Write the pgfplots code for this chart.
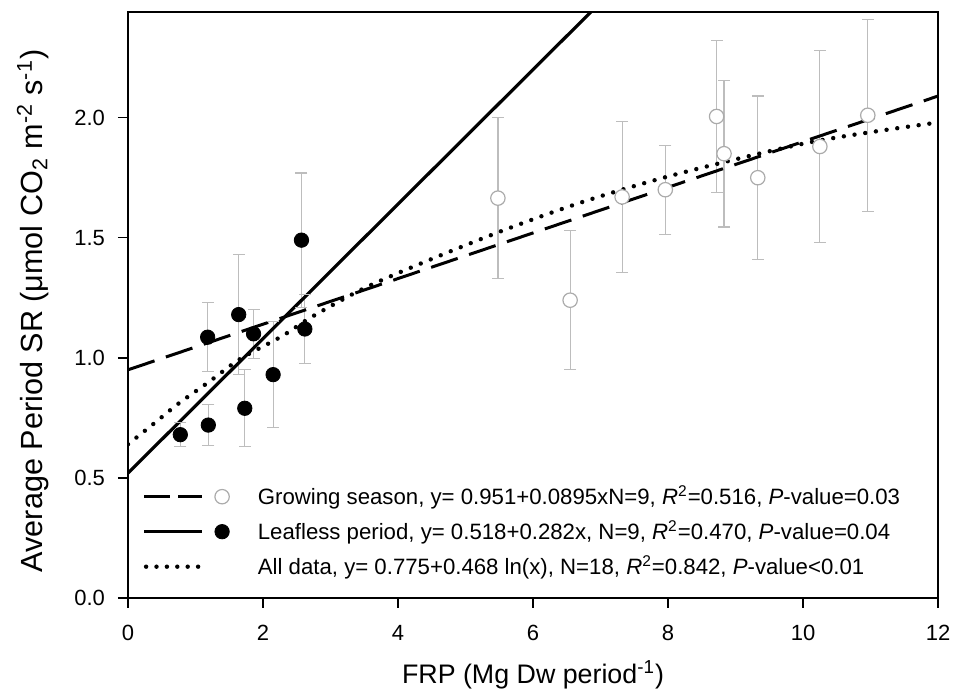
\documentclass[border=0pt]{standalone}
\usepackage{pgfplots}
\usepackage{pgfplotstable}
\pgfplotsset{compat=1.18}
\usepackage{fontspec}
\setmainfont{Liberation Sans}
\definecolor{barra}{HTML}{BDBDBD}
\definecolor{obert}{HTML}{ABABAB}

\pgfplotstableread{
x     y      e
0.775 0.680  0.050
1.190 0.720  0.085
1.180 1.086  0.143
1.640 1.180  0.250
1.860 1.100  0.102
1.730 0.790  0.160
2.150 0.930  0.220
2.570 1.490  0.280
2.620 1.120  0.145
}\leafless

\pgfplotstableread{
x      y      e
5.48   1.665  0.335
6.55   1.240  0.290
7.32   1.670  0.315
7.96   1.700  0.185
8.72   2.005  0.315
8.83   1.850  0.305
9.33   1.750  0.340
10.25  1.880  0.400
10.96  2.010  0.400
}\growing

\begin{document}
\begin{tikzpicture}
  \begin{axis}[
    scale only axis,
    width=405pt,
    height=293pt,
    xmin=0, xmax=12,
    ymin=0, ymax=2.44,
    xtick={0,2,...,12},
    ytick={0,0.5,1,1.5,2},
    /pgf/number format/assume math mode=true,
    tick label style={font=\fontsize{11}{13}\selectfont},
    yticklabel={\pgfmathprintnumber[fixed,fixed zerofill,precision=1]{\tick}},
    tick align=outside,
    xtick pos=bottom,
    ytick pos=left,
    major tick length=5pt,
    tick style={black, line width=0.7pt},
    axis line style={line width=0.9pt},
    xticklabel style={yshift=-5pt},
    yticklabel style={xshift=-3pt},
    xlabel={FRP (Mg Dw period\textsuperscript{-1})},
    ylabel={Average Period SR (μmol CO\textsubscript{2} m\textsuperscript{-2} s\textsuperscript{-1})},
    xlabel style={font=\fontsize{13.4}{15}\selectfont, yshift=-3pt},
    ylabel style={font=\fontsize{15.3}{17}\selectfont, yshift=6pt, xshift=-3pt},
    clip=true,
    legend cell align=left,
    legend style={draw=none, fill=none, at={(axis cs:0.12,0.05)}, anchor=south west,
      font=\fontsize{11.1}{12.5}\selectfont, row sep=2.6pt,
      /tikz/every odd column/.style={column sep=12pt}},
  ]
    % error bars
    \addplot[forget plot, draw=none, mark=none,
      error bars/.cd, y dir=both, y explicit, error mark=none,
      error bar style={draw=barra, line width=0.6pt}]
      table[x=x, y=y, y error=e] {\leafless};
    \addplot[forget plot, draw=none, mark=none,
      error bars/.cd, y dir=both, y explicit, error mark=none,
      error bar style={draw=barra, line width=0.6pt}]
      table[x=x, y=y, y error=e] {\growing};
    % caps
    \addplot[forget plot, only marks, mark=-, mark size=3pt, barra, mark options={line width=0.6pt}]
      table[x=x, y expr=\thisrow{y}+\thisrow{e}] {\leafless};
    \addplot[forget plot, only marks, mark=-, mark size=3pt, barra, mark options={line width=0.6pt}]
      table[x=x, y expr=\thisrow{y}-\thisrow{e}] {\leafless};
    \addplot[forget plot, only marks, mark=-, mark size=3pt, barra, mark options={line width=0.6pt}]
      table[x=x, y expr=\thisrow{y}+\thisrow{e}] {\growing};
    \addplot[forget plot, only marks, mark=-, mark size=3pt, barra, mark options={line width=0.6pt}]
      table[x=x, y expr=\thisrow{y}-\thisrow{e}] {\growing};

    % points
    \addplot[forget plot, only marks, mark=*, mark size=3.6pt, black]
      table[x=x, y=y] {\leafless};
    \addplot[forget plot, only marks, mark=*, mark size=3.6pt,
      mark options={draw=obert, fill=white, line width=0.6pt}]
      table[x=x, y=y] {\growing};

    % fitted lines
    \addplot[forget plot, black, line width=1.5pt, dash pattern=on 14pt off 6pt]
      coordinates {(0,0.95) (12,2.09)};
    \addplot[forget plot, black, line width=1.6pt]
      coordinates {(0,0.52) (7.5,2.62)};
    \addplot[forget plot, black, line width=2.2pt, line cap=round, dash pattern=on 0pt off 5.4pt, smooth]
      coordinates {(0,0.64) (0.4,0.73) (0.75,0.81) (1.2,0.90) (1.66,0.995) (2.28,1.09)
        (2.72,1.17) (3.5,1.29) (4.4,1.40) (5.6,1.535) (6.8,1.655) (8.2,1.77)
        (10.15,1.90) (12,1.98)};

    \addlegendimage{legend image code/.code={
      \draw[black, line width=1.2pt, dash pattern=on 13pt off 4pt] (0pt,0pt) -- (29pt,0pt);
      \draw[obert, line width=0.6pt, fill=white] (39pt,0pt) circle (3.6pt);}}
    \addlegendentry{Growing season, y= 0.951+0.0895xN=9, \textit{R}\textsuperscript{2}=0.516, \textit{P}-value=0.03}
    \addlegendimage{legend image code/.code={
      \draw[black, line width=1.6pt] (0pt,0pt) -- (29pt,0pt);
      \fill[black] (39pt,0pt) circle (3.6pt);}}
    \addlegendentry{Leafless period, y= 0.518+0.282x, N=9, \textit{R}\textsuperscript{2}=0.470, \textit{P}-value=0.04}
    \addlegendimage{legend image code/.code={
      \draw[black, line width=2.2pt, line cap=round, dash pattern=on 0pt off 5.2pt] (1pt,0pt) -- (29pt,0pt);
      \path (42.6pt,0pt);}}
    \addlegendentry{All data, y= 0.775+0.468 ln(x), N=18, \textit{R}\textsuperscript{2}=0.842, \textit{P}-value<0.01}
  \end{axis}
  \pgfresetboundingbox
  \path[use as bounding box] (-64pt,-49pt) rectangle (413pt,299pt);
\end{tikzpicture}
\end{document}
